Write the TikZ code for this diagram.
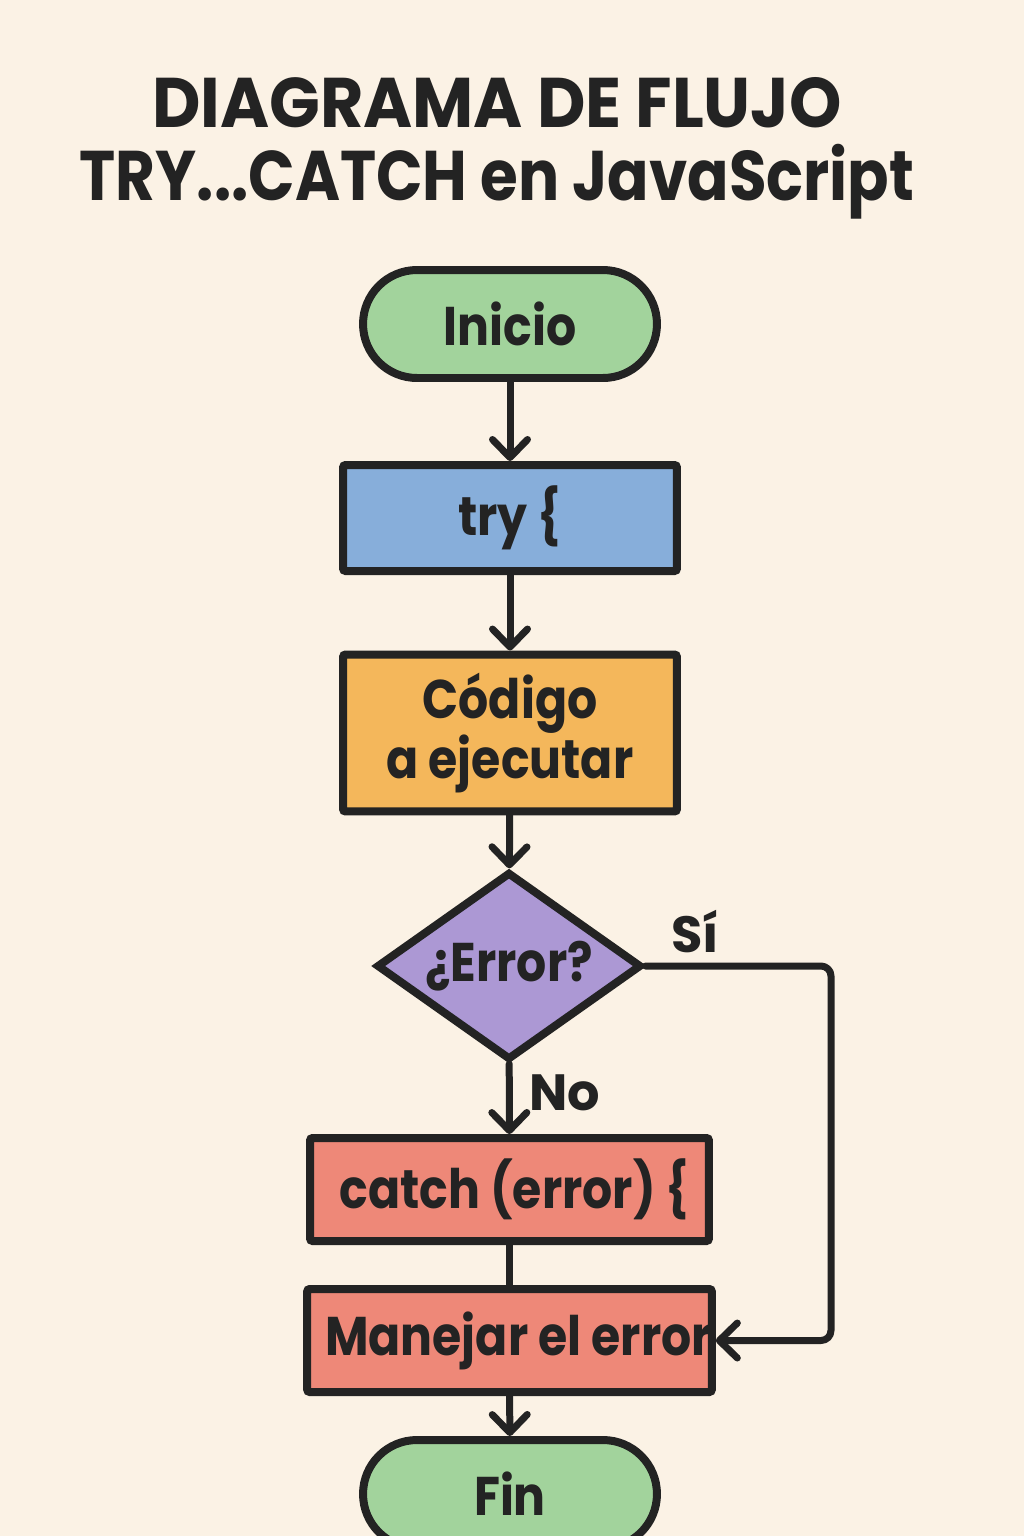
\documentclass[tikz,border=0pt]{standalone}
\usepackage{fontspec}
\usepackage{graphicx}
\setmainfont{Poppins}[FakeStretch=0.87]
\newfontfamily\plainfont{Poppins}
\usetikzlibrary{arrows.meta,shapes.geometric}
\definecolor{bgc}{HTML}{FBF2E5}
\definecolor{ink}{HTML}{232323}
\definecolor{greenf}{HTML}{A2D39C}
\definecolor{bluef}{HTML}{87AEDA}
\definecolor{orangef}{HTML}{F4B75B}
\definecolor{purplef}{HTML}{AC98D4}
\definecolor{redf}{HTML}{EE8878}
\tikzset{
  base/.style={draw=ink, line width=0.16cm, text=ink, font=\bfseries\fontsize{31}{37}\selectfont, inner sep=0pt, align=center},
  stadium/.style={base, fill=greenf, rectangle, rounded corners=1.08cm, minimum width=5.88cm, minimum height=2.16cm},
  boxnode/.style={base, rectangle, rounded corners=0.05cm},
  decision/.style={base, diamond, fill=purplef, minimum width=5.3cm, minimum height=3.76cm, aspect=1.41},
  conn/.style={draw=ink, line width=0.14cm, line cap=round, line join=round},
  tip/.style={-{Straight Barb[length=0.36cm,width=0.7cm,line cap=round,line join=round]}},
  lbl/.style={text=ink, font=\plainfont\bfseries\fontsize{29}{34}\selectfont, inner sep=0pt},
  ttl/.style={text=ink, font=\bfseries\fontsize{40}{48}\selectfont, inner sep=0pt}
}
\begin{document}
\begin{tikzpicture}[x=0.02cm,y=-0.02cm]
\fill[bgc] (0,0) rectangle (1024,1536);
\useasboundingbox (0,0) rectangle (1024,1536);
\node[ttl] (t1) at (497,103) {\scalebox{1.09}[1]{DIAGRAMA DE FLUJO}};
\node[ttl] (t2) at (497,182) {TRY...CATCH en JavaScript};
\node[stadium] (inicio) at (510,324) {Inicio};
\node[boxnode, fill=bluef, minimum width=6.68cm, minimum height=2.12cm] (try) at (510,518) {try \{};
\node[boxnode, fill=orangef, minimum width=6.68cm, minimum height=3.14cm, font=\bfseries\fontsize{31}{31}\selectfont] (codigo) at (510,733) {Código\\ a ejecutar};
\node[decision] (err) at (509,966) {¿Error?};
\node[boxnode, fill=redf, minimum width=7.98cm, minimum height=2.06cm] (catch) at (509.5,1189.5) {\hspace*{0.2cm}catch (error) \{};
\node[boxnode, fill=redf, minimum width=7.98cm, minimum height=2.06cm] (manejar) at (509.5,1340.5) {\hspace*{0.36cm}Manejar el error};
\node[stadium] (fin) at (510,1494) {Fin};
\node[lbl] (si) at (695,932) {Sí};
\node[lbl] (no) at (565,1093) {No};
\coordinate (c1) at (831,966);
\coordinate (c2) at (831,1340.5);
\draw[conn,tip] (inicio) -- (try);
\draw[conn,tip] (try) -- (codigo);
\draw[conn,tip] (codigo) -- (err);
\draw[conn,tip] (err) -- (catch);
\draw[conn] (catch) -- (manejar);
\draw[conn,tip] (manejar) -- (fin);
\draw[conn,tip,rounded corners=0.2cm] (err.east) -- (c1) -- (c2) -- (manejar.east);
\end{tikzpicture}
\end{document}
